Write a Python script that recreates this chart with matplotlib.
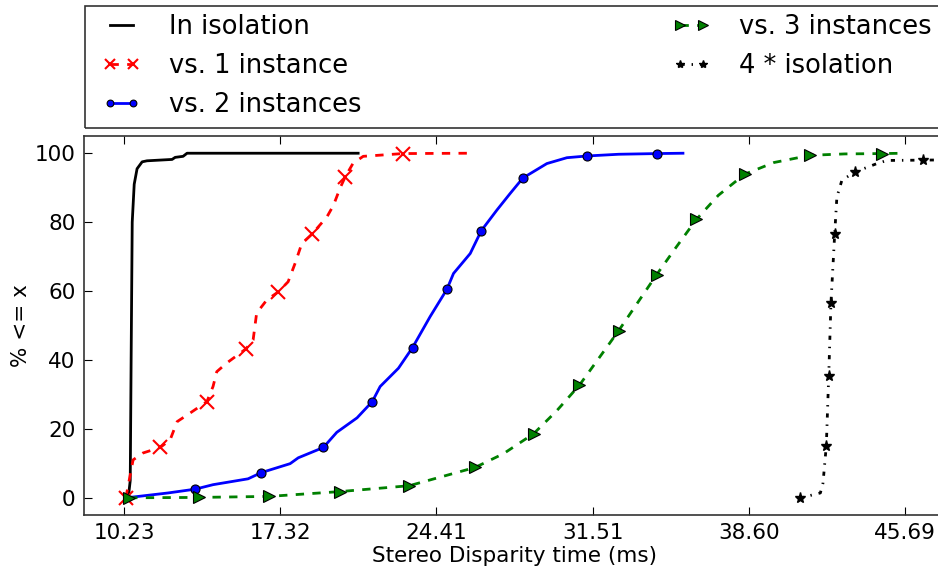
import numpy as np
import matplotlib.pyplot as plt
from matplotlib.patches import Rectangle

# CDF points (x in ms, y in %)
iso_x = [10.42, 10.51, 10.55, 10.60, 10.69, 10.82, 11.05, 11.27, 12.41, 12.55, 12.91, 13.09, 20.86]
iso_y = [0.0, 5.0, 40.0, 80.0, 91.0, 95.5, 97.5, 97.8, 98.2, 98.8, 99.1, 100.0, 100.0]

one_x = [10.31, 10.64, 11.09, 11.87, 12.32, 12.64, 13.23, 13.99, 14.27, 14.44, 14.89, 15.76,
         16.09, 16.25, 16.71, 17.24, 17.68, 18.00, 18.30, 18.76, 19.44, 19.74, 20.04, 20.27,
         20.63, 21.09, 22.89, 25.86]
one_y = [0.0, 11.0, 13.0, 14.6, 16.8, 22.1, 24.6, 27.9, 32.3, 36.6, 39.1, 43.2,
         45.8, 53.6, 57.4, 59.8, 62.7, 68.1, 73.8, 76.5, 81.5, 84.9, 89.9, 93.1,
         97.1, 99.1, 99.9, 100.0]
one_marks = [0, 3, 7, 11, 15, 19, 23, 26]

two_x = [10.35, 12.23, 13.46, 14.27, 15.86, 16.46, 17.77, 18.14, 19.28, 19.89, 20.81, 21.50,
         21.86, 22.69, 23.33, 24.13, 24.89, 25.19, 25.95, 26.45, 27.16, 27.76, 28.34,
         29.43, 30.34, 31.25, 32.69, 34.42, 35.61]
two_y = [0.0, 1.4, 2.5, 3.8, 5.5, 7.3, 9.9, 11.6, 14.6, 19.0, 23.2, 27.9,
         32.3, 37.6, 43.6, 52.6, 60.5, 65.1, 70.9, 77.5, 83.5, 88.3, 92.8,
         97.0, 98.7, 99.2, 99.7, 99.9, 100.0]
two_marks = [2, 5, 8, 11, 14, 16, 19, 22, 25, 27]

three_x = [10.46, 13.61, 16.82, 20.04, 23.18, 26.17, 27.46, 28.83, 29.87, 30.91, 31.79,
           32.69, 33.55, 34.42, 35.31, 36.22, 37.22, 38.41, 39.74, 41.39, 42.96, 44.65, 45.70]
three_y = [0.0, 0.1, 0.4, 1.8, 3.5, 8.8, 12.8, 18.6, 25.2, 32.7, 40.5,
           48.5, 56.6, 64.8, 72.8, 80.8, 87.8, 93.9, 97.3, 99.4, 99.8, 99.9, 100.0]
three_marks = [0, 1, 2, 3, 4, 5, 7, 9, 11, 13, 15, 17, 19, 21]

four_x = [40.91, 41.85, 41.97, 42.12, 42.23, 42.33, 42.50, 42.60, 42.83, 43.44, 44.42, 44.87, 46.51, 49.70]
four_y = [-0.1, 1.4, 4.3, 15.1, 35.4, 56.4, 76.5, 87.3, 92.2, 94.6, 97.0, 97.9, 98.0, 98.2]
four_marks = [0, 3, 4, 5, 6, 9, 12]

x_ticks = [10.23, 17.32, 24.41, 31.51, 38.60, 45.69]
y_ticks = [0, 20, 40, 60, 80, 100]

W, H = 938, 571
fig = plt.figure(figsize=(W / 100, H / 100), dpi=100)
ax = fig.add_axes([84 / W, 1 - 515 / H, 861 / W, 379 / H])

dashed = (0, (3, 3))
dashdot = (0, (1.5, 2.5, 0.5, 2.5))
ax.plot(iso_x, iso_y, '-', color='black', lw=2, label='In isolation')
ax.plot(one_x, one_y, ls=dashed, color='red', lw=2, marker='x', ms=10, mew=1.5,
        markevery=one_marks, label='vs. 1 instance')
ax.plot(two_x, two_y, '-', color='blue', lw=2, marker='o', ms=6.5, mec='black', mew=0.8,
        markevery=two_marks, label='vs. 2 instances')
ax.plot(three_x, three_y, ls=dashed, color='green', lw=2, marker='>', ms=9, mec='black', mew=0.8,
        markevery=three_marks, label='vs. 3 instances')
ax.plot(four_x, four_y, ls=dashdot, color='black', lw=2, marker='*', ms=8,
        markevery=four_marks, label='4 * isolation')

ax.set_xlim(8.41, 47.51)
ax.set_ylim(-5, 105)
ax.set_xticks(x_ticks)
ax.set_xticklabels(['%.2f' % t for t in x_ticks])
ax.set_yticks(y_ticks)
ax.tick_params(direction='in', length=6, top=True, right=False, labelsize=15.5, pad=6)
for s in ax.spines.values():
    s.set_color('#333333')
    s.set_linewidth(1.2)
ax.set_xlabel('Stereo Disparity time (ms)', fontsize=15.5, labelpad=2)
ax.set_ylabel('% <= x', fontsize=15.5, labelpad=3)

# legend frame drawn separately so it can run off the right edge like the original
fig.patches.append(Rectangle((85 / W, 1 - 128 / H), 870 / W, 122 / H, transform=fig.transFigure,
                             fill=False, edgecolor='#333333', linewidth=1.2))
fs = 18.5
pad = 0.3
leg = fig.legend(loc='upper left', bbox_to_anchor=((102 - pad * fs * 100 / 72) / W, 1 - 6.5 / H),
                 ncol=2, fontsize=fs, numpoints=2, markerscale=0.75,
                 handlelength=1.5, handletextpad=1.1,
                 labelspacing=0.5, borderpad=pad, borderaxespad=0, columnspacing=12.1,
                 frameon=False)

fig.savefig('out.png', dpi=100)
